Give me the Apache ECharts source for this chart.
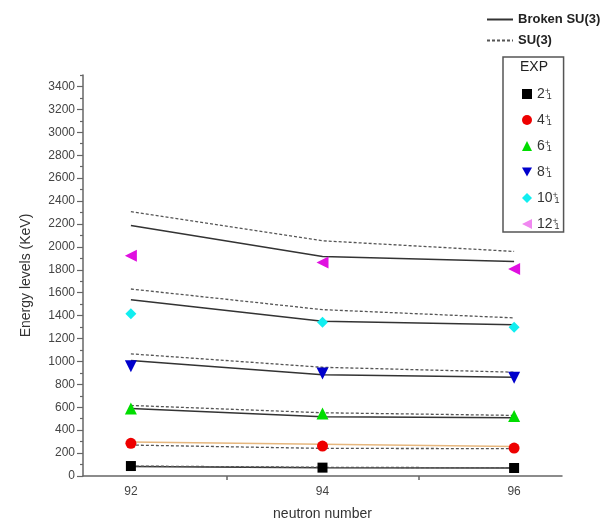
<!DOCTYPE html>
<html>
<head>
<meta charset="utf-8">
<script src="https://cdn.jsdelivr.net/npm/echarts@6/dist/echarts.min.js"></script>
<style>
  html, body { margin: 0; padding: 0; background: #fff; }
  #chart { width: 605px; height: 526px; }
</style>
</head>
<body>
<div id="chart"></div>
<script>
'use strict';

var neutrons = [92, 94, 96];
var levels = ['2', '4', '6', '8', '10', '12'];
var yLabels = [0, 200, 400, 600, 800, 1000, 1200, 1400, 1600, 1800, 2000, 2200, 2400, 2600, 2800, 3000, 3200, 3400];

// experimental levels, one row per spin
var exp = [
  [87, 73, 70],
  [285, 261, 244],
  [590, 546, 523],
  [958, 895, 857],
  [1417, 1342, 1298],
  [1922, 1864, 1807]
];
// broken SU(3) (solid)
var brokenSU3 = [
  [82, 73, 70],
  [296, 278, 257],
  [590, 517, 508],
  [1008, 883, 862],
  [1539, 1350, 1321],
  [2187, 1916, 1873]
];
// SU(3) (dashed)
var su3 = [
  [87, 76, 72],
  [270, 241, 239],
  [616, 552, 529],
  [1066, 949, 906],
  [1632, 1452, 1380],
  [2308, 2053, 1960]
];

var colors = ['#000000', '#ee0000', '#00dd00', '#0000cc', '#11eef0', '#e010e0'];
var legendColors = ['#000000', '#ee0000', '#00dd00', '#0000cc', '#11eef0', '#f088f0'];
var symbols = [
  'rect',
  'circle',
  'triangle',
  'path://M0,0 L10,0 L5,9 Z',
  'diamond',
  'path://M10,0 L10,10 L0,5 Z'
];
var sizes = [10, 11, 12, 12, 11, 12];

function pairs(vals) {
  return vals.map(function (v, k) { return [neutrons[k], v]; });
}

var series = [];
brokenSU3.forEach(function (v, k) {
  series.push({
    name: 'Broken SU(3)',
    type: 'line',
    data: pairs(v),
    showSymbol: false,
    symbol: 'none',
    z: 2,
    lineStyle: { color: k === 1 ? '#e6b77e' : '#333', width: 1.5 },
    itemStyle: { color: '#333' }
  });
});
su3.forEach(function (v, k) {
  series.push({
    name: 'SU(3)',
    type: 'line',
    data: pairs(v),
    showSymbol: false,
    symbol: 'none',
    z: 2,
    lineStyle: { color: '#555', width: 1.3, type: [3, 2] },
    itemStyle: { color: '#555' }
  });
});
exp.forEach(function (v, k) {
  series.push({
    name: levels[k],
    type: 'scatter',
    data: pairs(v),
    symbol: symbols[k],
    symbolSize: sizes[k],
    z: 3,
    itemStyle: { color: colors[k], opacity: 1 }
  });
});

var chart = echarts.init(document.getElementById('chart'));
chart.setOption({
  animation: false,
  textStyle: { fontFamily: 'Liberation Sans, Arial, sans-serif' },
  grid: { left: 83, right: 43, top: 75, bottom: 49 },
  legend: [{
    data: ['Broken SU(3)', 'SU(3)'],
    orient: 'vertical',
    left: 481,
    top: 8,
    itemWidth: 26,
    itemHeight: 10,
    itemGap: 8,
    itemStyle: { color: 'transparent', borderColor: 'transparent', borderWidth: 0 },
    textStyle: { fontSize: 13, fontWeight: 'bold', color: '#222' }
  }, {
    data: levels.map(function (n, k) {
      return { name: n, itemStyle: { color: legendColors[k], opacity: 1 } };
    }),
    orient: 'vertical',
    left: 503,
    top: 57,
    itemWidth: 10,
    itemHeight: 10,
    itemGap: 12,
    padding: [30, 4, 1, 19],
    borderColor: '#555',
    borderWidth: 1.5,
    formatter: function (name) {
      return '{n|' + name + '}{p|+}{s|1}';
    },
    textStyle: {
      color: '#333',
      rich: {
        n: { fontSize: 14, color: '#333' },
        p: { fontSize: 9, width: 1, verticalAlign: 'top', color: '#333' },
        s: { fontSize: 9, verticalAlign: 'bottom', color: '#333', padding: [0, 0, 0, 1] }
      }
    }
  }],
  graphic: [{
    type: 'text',
    left: 520,
    top: 60,
    style: { text: 'EXP', fontSize: 14, fill: '#222', fontFamily: 'Liberation Sans, Arial, sans-serif' }
  }],
  xAxis: {
    type: 'value',
    min: 91.5,
    max: 96.5,
    name: 'neutron number',
    nameLocation: 'middle',
    nameGap: 31,
    nameTextStyle: { fontSize: 14, color: '#333' },
    splitLine: { show: false },
    axisLine: { lineStyle: { color: '#666', width: 1.5 } },
    axisTick: { customValues: [93, 95], length: 4, lineStyle: { color: '#666', width: 1.5 } },
    axisLabel: { customValues: neutrons, fontSize: 12, color: '#444', margin: 10 }
  },
  yAxis: [{
    type: 'value',
    min: 0,
    max: 3500,
    name: 'Energy levels (KeV)',
    nameLocation: 'middle',
    nameGap: 50,
    nameTextStyle: { fontSize: 14, color: '#333' },
    splitLine: { show: false },
    axisLine: { show: true, lineStyle: { color: '#666', width: 1.5 } },
    axisTick: { customValues: yLabels, length: 6, lineStyle: { color: '#666', width: 1.2 } },
    axisLabel: {
      customValues: yLabels,
      fontSize: 12,
      color: '#444',
      margin: 8,
      formatter: function (v) { return String(v); }
    }
  }, {
    type: 'value',
    min: 0,
    max: 3500,
    position: 'left',
    splitLine: { show: false },
    axisLine: { show: false },
    axisLabel: { show: false },
    axisTick: {
      customValues: yLabels.map(function (v) { return v + 100; }),
      length: 3,
      lineStyle: { color: '#666', width: 1.2 }
    }
  }],
  series: series
});
</script>
</body>
</html>
